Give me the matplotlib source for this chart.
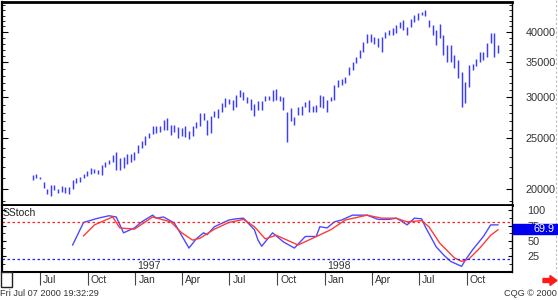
import numpy as np
import pandas as pd
import matplotlib
matplotlib.use("Agg")
import matplotlib.pyplot as plt
import matplotlib.dates as mdates
import matplotlib.transforms as mtransforms
from matplotlib.ticker import FixedLocator, NullFormatter, FixedFormatter
from matplotlib.patches import Rectangle, Polygon
from matplotlib.lines import Line2D

plt.rcParams['font.family'] = ['Liberation Sans', 'DejaVu Sans']

# ---------------- data ----------------
bar_start = "1996-06-17"
bar_count = 129
highs = [21280, 21370, 21090, 20630, 20000, 20360, 20360, 20000, 20270, 20180,
         20180, 20810, 21000, 21090, 21370, 21650, 21940, 21850, 21750, 22240,
         22530, 22730, 23240, 23550, 22930, 23040, 23340, 23340, 23550, 24290,
         24720, 25270, 25610, 26410, 26410, 26410, 27120, 27360, 26530, 26530,
         26300, 26180, 26410, 25840, 26410, 26880, 27970, 27970, 27120, 27600,
         28220, 28470, 29230, 29890, 29760, 29620, 30290, 30970, 30690, 30020,
         29760, 29100, 29490, 29490, 30150, 30150, 30970, 31110, 30150, 30020,
         28090, 28590, 27480, 28720, 28840, 29360, 29620, 28840, 28970, 30290,
         30150, 29620, 30020, 31660, 32370, 32510, 32800, 34280, 35040, 35810,
         36920, 38240, 39650, 39650, 39120, 38940, 39120, 40000, 40350, 40710,
         41260, 41800, 42170, 40890, 42360, 43120, 43510, 43700, 44080, 42170,
         41260, 40350, 41440, 39470, 37740, 37740, 36130, 35350, 33530, 32080,
         34580, 34730, 35500, 36600, 36600, 38070, 39820, 39820, 37740]
lows = [20810, 21000, 20900, 20090, 19560, 19390, 19910, 19650, 19740, 19650,
        19560, 20000, 20540, 20630, 21000, 21180, 21370, 21460, 21370, 21280,
        22040, 22330, 22530, 21750, 21750, 21940, 22330, 22530, 22730, 23450,
        23970, 24290, 25050, 25490, 25610, 25720, 25950, 25950, 25380, 25720,
        25050, 25270, 25160, 24940, 25270, 26180, 26410, 27120, 25380, 25610,
        27480, 27360, 28090, 28720, 29100, 28340, 28720, 30020, 29620, 29230,
        28340, 27600, 28340, 28340, 29490, 29620, 29490, 29620, 29490, 28340,
        24610, 27000, 26530, 27720, 27720, 28720, 28090, 28090, 28090, 28720,
        28590, 28090, 29490, 29620, 31380, 31660, 31940, 33090, 33830, 34890,
        35660, 36600, 38070, 38240, 37910, 37410, 36600, 38940, 39470, 39470,
        39820, 40710, 40350, 39470, 40890, 41800, 42170, 43120, 42930, 40890,
        39470, 37740, 38940, 36130, 35040, 35040, 34130, 32660, 28720, 29230,
        31380, 33830, 34430, 35040, 35350, 35810, 38070, 35810, 36440]

# slow stochastic: %K (blue) and %D (red), read at bar indices
k_idx = [11, 14, 18, 21, 23, 25, 28, 30, 33, 34, 36, 39, 43, 45, 47, 48, 50, 54,
         56, 58, 61, 62, 63, 66, 67, 69, 72, 75, 78, 79, 81, 83, 85, 88, 92, 95,
         98, 100, 101, 103, 105, 107, 108, 111, 113, 115, 118, 119, 121, 124,
         126, 127, 128]
k_vals = [43, 80, 87, 91, 89, 63, 71, 81, 92, 87, 89, 79, 38, 53, 63, 60, 73, 84,
          86, 87, 68, 51, 41, 63, 58, 48, 38, 57, 57, 73, 71, 81, 84, 92, 92, 85,
          85, 87, 84, 76, 87, 86, 73, 40, 27, 16, 8, 18, 35, 57,
          76, 76, 76]
d_idx = [14, 17, 22, 24, 28, 33, 38, 41, 44, 46, 50, 54, 58, 61, 64, 67, 73, 77,
         82, 86, 92, 96, 100, 103, 107, 109, 112, 116, 118, 120, 123, 126, 128]
d_vals = [58, 76, 89, 71, 69, 89, 81, 63, 51, 54, 69, 80, 85, 73, 53, 59, 43, 54,
          68, 84, 92, 87, 87, 81, 83, 73, 46, 22, 16, 20, 38, 59, 68]

price_ticks = [20000, 25000, 30000, 35000, 40000]
price_minor = list(range(19000, 46000, 1000))
price_range = (18640, 45660)
osc_ticks = [25, 50, 75, 100]
osc_minor = [12.5, 37.5, 62.5, 87.5]
osc_range = (-1.3, 107)
overbought = 80
oversold = 20
last_value = 69.9
month_dates = ["1996-07-01", "1996-10-01", "1997-01-01", "1997-04-01", "1997-07-01",
               "1997-10-01", "1998-01-01", "1998-04-01", "1998-07-01", "1998-10-01"]
month_labels = ["Jul", "Oct", "Jan", "Apr", "Jul", "Oct", "Jan", "Apr", "Jul", "Oct"]
year_dates = ["1997-01-01", "1998-01-01"]
year_labels = ["1997", "1998"]
x_range = ("1996-04-19", "1998-12-27")
indicator_name = "SStoch"
footer_left = "Fri Jul 07 2000 19:32:29"
footer_right = "CQG \u00a9 2000"

# ---------------- figure ----------------
W, H = 558, 300
fig = plt.figure(figsize=(W / 100, H / 100), dpi=100)
fig.patch.set_facecolor("white")


def fx(x):
    return x / W


def fy(y):
    return 1 - y / H


bar_dates = mdates.date2num(pd.date_range(bar_start, periods=bar_count, freq="7D").to_pydatetime())
xlim = [mdates.date2num(pd.Timestamp(d).to_pydatetime()) for d in x_range]

ax = fig.add_axes([fx(2), fy(205), (512 - 2) / W, (205 - 2) / H])
ax2 = fig.add_axes([fx(2), fy(272), (512 - 2) / W, (272 - 206) / H])

bar_color = "#3c3cff"
ax.vlines(bar_dates, lows, highs, color=bar_color, lw=1.05)
ax.set_yscale("log")
ax.set_ylim(*price_range)
ax.set_xlim(*xlim)
ax.yaxis.set_major_locator(FixedLocator(price_ticks))
ax.yaxis.set_major_formatter(FixedFormatter([str(t) for t in price_ticks]))
ax.yaxis.set_minor_locator(FixedLocator(price_minor))
ax.yaxis.set_minor_formatter(NullFormatter())
ax.yaxis.tick_right()
ax.tick_params(axis="y", which="major", direction="in", length=4, width=0.8,
               left=True, right=True, labelright=True, labelleft=False,
               pad=10, labelsize=7.8, labelcolor="#333333")
ax.tick_params(axis="y", which="minor", direction="in", length=2, width=0.6,
               left=True, right=True)
ax.tick_params(axis="x", which="both", bottom=False, labelbottom=False)
for s in ["top", "bottom"]:
    ax.spines[s].set_linewidth(2)
ax.spines["left"].set_linewidth(1.6)
ax.spines["right"].set_linewidth(1)

# stochastic panel
k_dates = [bar_dates[i] for i in k_idx]
d_dates = [bar_dates[i] for i in d_idx]
ax2.plot(k_dates, k_vals, color="#4a4aff", lw=1.0)
ax2.plot(d_dates, d_vals, color="#ff3a3a", lw=1.0)
ax2.axhline(overbought, color="#ff2020", lw=0.9, ls=(0, (2, 2)))
ax2.axhline(oversold, color="#2020ff", lw=0.9, ls=(0, (2, 2)))
ax2.set_xlim(*xlim)
ax2.set_ylim(*osc_range)
ax2.yaxis.set_major_locator(FixedLocator(osc_ticks))
ax2.yaxis.set_major_formatter(FixedFormatter([str(t) for t in osc_ticks]))
ax2.yaxis.set_minor_locator(FixedLocator(osc_minor))
ax2.yaxis.tick_right()
ax2.tick_params(axis="y", which="major", direction="in", length=3, width=0.8,
                left=True, right=True, labelright=True, labelleft=False,
                pad=11, labelsize=7.8, labelcolor="#333333")
ax2.tick_params(axis="y", which="minor", direction="in", length=2, width=0.6,
                left=True, right=True)
month_nums = [mdates.date2num(pd.Timestamp(d).to_pydatetime()) for d in month_dates]
ax2.set_xticks(month_nums)
ax2.tick_params(axis="x", which="major", direction="out", length=9, width=0.8,
                color="#444444", labelbottom=False)
ax2.spines["top"].set_visible(False)
ax2.spines["bottom"].set_linewidth(1.5)
ax2.spines["left"].set_linewidth(1.6)
ax2.spines["right"].set_linewidth(1)

blend = mtransforms.blended_transform_factory(ax2.transData, ax2.transAxes)
lab_tr = mtransforms.offset_copy(blend, fig=fig, x=3, y=-8, units="dots")
for d, lab in zip(month_nums, month_labels):
    ax2.text(d, 0, lab, transform=lab_tr, ha="left", va="center",
             fontsize=7.5, color="#333333", clip_on=False)
yr_tr = mtransforms.offset_copy(blend, fig=fig, x=2, y=1, units="dots")
for d, lab in zip(year_dates, year_labels):
    dn = mdates.date2num(pd.Timestamp(d).to_pydatetime())
    ax2.text(dn, 0, lab, transform=yr_tr, ha="left", va="bottom",
             fontsize=7.5, color="#333333")
ax2.text(0.002, 0.97, indicator_name, transform=ax2.transAxes, ha="left", va="top",
         fontsize=7.5, color="#222222")

# last value box (covers the 75 label, as in the original)
fig.patches.append(Rectangle((fx(513), fy(233.5)), (557 - 513) / W, 9.5 / H,
                             transform=fig.transFigure, facecolor="#0000ee",
                             edgecolor="#0000ee", zorder=5))
fig.text(fx(555), fy(228.8), f"{last_value:.1f}", ha="right", va="center",
         fontsize=7.8, color="white", zorder=6)

# dotted right border
fig.add_artist(Line2D([fx(556), fx(556)], [fy(0), fy(272)], transform=fig.transFigure,
                      color="#bbbbbb", lw=0.8, ls=(0, (2, 2))))

# left small box under panel
fig.patches.append(Rectangle((fx(0.5), fy(287)), 11 / W, 15 / H, transform=fig.transFigure,
                             facecolor="white", edgecolor="#222222", lw=1, zorder=4))

# red arrow
arrow_pts = [(543, 278.5), (550, 278.5), (550, 275.5), (557, 280.5),
             (550, 285.5), (550, 282.5), (543, 282.5)]
fig.patches.append(Polygon([(fx(x), fy(y)) for x, y in arrow_pts], closed=True,
                           transform=fig.transFigure, facecolor="#ff1a1a",
                           edgecolor="#ff1a1a", zorder=5))

fig.text(fx(0), fy(294), footer_left, ha="left", va="center", fontsize=6.6,
         color="#333333", family=["Liberation Sans Narrow", "Liberation Sans", "DejaVu Sans"])
fig.text(fx(557), fy(294), footer_right, ha="right", va="center", fontsize=6.6,
         color="#333333", family=["Liberation Sans Narrow", "Liberation Sans", "DejaVu Sans"])

fig.savefig("out.png", dpi=100)
